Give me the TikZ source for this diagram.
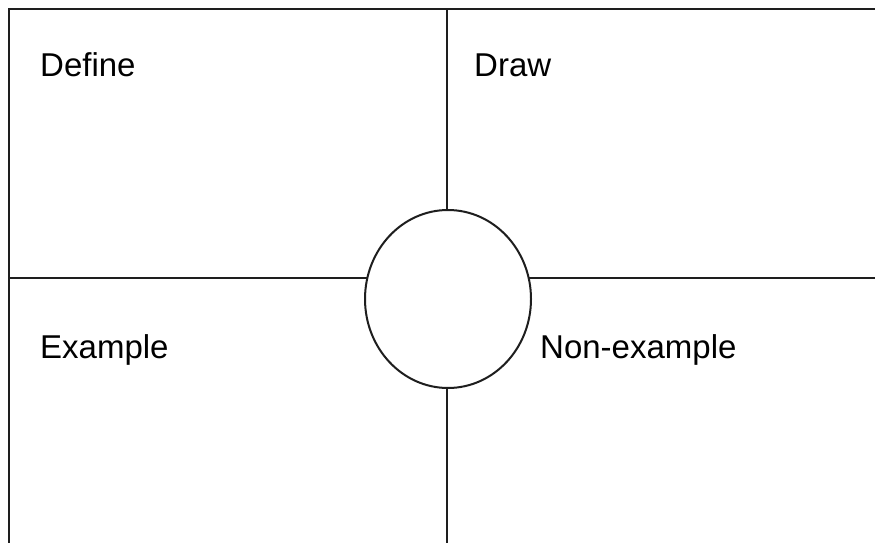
\documentclass[tikz,border=0pt]{standalone}
\usepackage{fontspec}
\setmainfont{Liberation Sans}
\usepackage{tikz}
\usetikzlibrary{shapes.geometric, positioning}
\definecolor{FrameInk}{RGB}{30,30,30}

\begin{document}
\begin{tikzpicture}[x=1pt, y=-1pt,
      frame/.style={line width=2pt, draw=FrameInk},
      hub/.style={ellipse, draw=FrameInk, line width=2pt, fill=white,
                  minimum width=166pt, minimum height=178pt, inner sep=0pt},
      lbl/.style={font=\fontsize{33}{40}\selectfont, anchor=base west,
                  inner sep=0pt, text=black}
    ]
    \useasboundingbox (0,0) rectangle (875,543);
    \clip (0,0) rectangle (875,543);

    % Outer frame (runs off the right and bottom edges)
    \draw[frame] (9,560) -- (9,9) -- (877,9) -- (877,560);

    % Quadrant dividers
    \coordinate (vtop) at (447,9);
    \coordinate (vbot) at (447,560);
    \coordinate (hleft) at (9,278);
    \coordinate (hright) at (890,278);
    \draw[frame] (vtop) -- (vbot);
    \draw[frame] (hleft) -- (hright);

    % Centre ellipse
    \node[hub] (word) at (448,299) {};

    % Quadrant labels
    \node[lbl] (define)  at (40,77)   {Define};
    \node[lbl] (drawq)   at (474,77)  {Draw};
    \node[lbl] (example) at (40,358)  {Example};
    \node[lbl] (nonex)   at (540,358) {Non-example};
  \end{tikzpicture}
\end{document}
